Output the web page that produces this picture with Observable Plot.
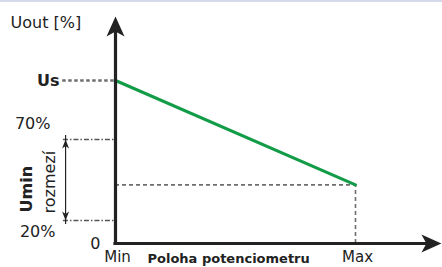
<!DOCTYPE html>
<html>
<head>
<meta charset="utf-8">
<script src="https://cdn.jsdelivr.net/npm/d3@7"></script>
<script src="https://cdn.jsdelivr.net/npm/@observablehq/plot@0.6"></script>
<style>
  html, body { margin: 0; padding: 0; background: #fff; }
  #wrap { position: relative; width: 442px; height: 267px; overflow: hidden; }
  #topline { position: absolute; left: 0; top: 0; width: 442px; height: 2px; background: #d5daea; }
  svg { display: block; }
</style>
</head>
<body>
<div id="wrap"><div id="topline"></div></div>
<script>
// ---- data (schematic values) ----
const potPositions = [0, 1];               // Min, Max (potentiometer position)
const potLabels = ["Min", "Max"];
const uoutValues = [100, 42];              // Uout from Us (at Min) down to end value (at Max)
const levelValues = [0, 20, 70];           // y tick levels
const levelLabels = ["0", "20%", "70%"];
const usLevel = 100;                       // Us level
const uminRange = [20, 70];                // Umin range 20–70 %
const yAxisTop = 130;                      // arrow tip of Uout axis
const xAxisEnd = 1.358;                    // arrow tip of position axis

const line = potPositions.map((x, i) => ({x, y: uoutValues[i]}));
const endPoint = line[line.length - 1];

// schematic (non-linear) vertical layout of the drawing
const schematic = d3.scaleLinear().domain([0, 20, 70, 100, 130]).range([0, 23, 104, 163, 227]);

const upHead = {draw(c) { c.moveTo(0, 0); c.lineTo(9, 20); c.lineTo(0, 15); c.lineTo(-9, 20); c.closePath(); }};
const rightHead = {draw(c) { c.moveTo(0, 0); c.lineTo(-20, -9); c.lineTo(-15, 0); c.lineTo(-20, 9); c.closePath(); }};
const smallUp = {draw(c) { c.moveTo(0, 0); c.lineTo(3.5, 9); c.lineTo(0, 6.5); c.lineTo(-3.5, 9); c.closePath(); }};
const smallDown = {draw(c) { c.moveTo(0, 0); c.lineTo(3.5, -9); c.lineTo(0, -6.5); c.lineTo(-3.5, -9); c.closePath(); }};

const font = "DejaVu Sans, sans-serif";
const ink = "#222";
const grey = "#6f6f6f";

const chart = Plot.plot({
  width: 442,
  height: 267,
  margin: 0,
  style: {fontFamily: font, background: "transparent", overflow: "visible"},
  x: {domain: [0, 1], range: [115, 355], axis: null},
  y: {transform: schematic, domain: [0, 227], range: [243, 16], axis: null},
  marks: [
    // Us dashed leader
    Plot.ruleY([usLevel], {x1: -0.22, x2: 0, stroke: grey, strokeWidth: 2.4, strokeDasharray: "3.5,2.5"}),
    // Umin range dash-dot leaders
    Plot.ruleY(uminRange, {x1: -0.217, x2: 0, stroke: "#555", strokeWidth: 1.6, strokeDasharray: "5,2,1.5,2"}),
    // double arrow for Umin range
    Plot.ruleX([-0.208], {y1: uminRange[0], y2: uminRange[1], stroke: ink, strokeWidth: 1.2, insetTop: 4, insetBottom: 4}),
    Plot.dot([{x: -0.208, y: uminRange[1]}], {x: "x", y: "y", symbol: smallUp, fill: ink, stroke: "none", r: 3}),
    Plot.dot([{x: -0.208, y: uminRange[0]}], {x: "x", y: "y", symbol: smallDown, fill: ink, stroke: "none", r: 3}),
    // end-point dashed projections
    Plot.ruleY([endPoint], {y: "y", x1: 0, x2: "x", stroke: grey, strokeWidth: 1.6, strokeDasharray: "4,3"}),
    Plot.ruleX([endPoint], {x: "x", y1: 0, y2: "y", stroke: grey, strokeWidth: 1.6, strokeDasharray: "4,3"}),
    // Uout line
    Plot.line(line, {x: "x", y: "y", stroke: "#139c48", strokeWidth: 3}),
    // axes
    Plot.ruleX([0], {y1: 0, y2: yAxisTop - 3, stroke: ink, strokeWidth: 3.2, strokeLinecap: "square"}),
    Plot.ruleY([0], {x1: 0, x2: xAxisEnd - 0.06, stroke: ink, strokeWidth: 3.2, strokeLinecap: "square"}),
    Plot.dot([{x: 0, y: yAxisTop}], {x: "x", y: "y", symbol: upHead, fill: ink, stroke: "none", r: 5}),
    Plot.dot([{x: xAxisEnd, y: 0}], {x: "x", y: "y", symbol: rightHead, fill: ink, stroke: "none", r: 5}),
    // labels
    Plot.text(["Uout [%]"], {x: 0, y: yAxisTop, dx: -105, dy: 6, textAnchor: "start", fontSize: 16, fill: ink}),
    Plot.text(["Us"], {x: 0, y: usLevel, dx: -56, textAnchor: "end", fontSize: 16, fontWeight: "bold", fill: ink}),
    Plot.text([levelLabels[2]], {x: 0, y: levelValues[2], dx: -65, dy: -16, textAnchor: "end", fontSize: 16, fill: ink}),
    Plot.text([levelLabels[1]], {x: 0, y: levelValues[1], dx: -60, dy: 11, textAnchor: "end", fontSize: 16, fill: ink}),
    Plot.text([levelLabels[0]], {x: 0, y: levelValues[0], dx: -15, textAnchor: "end", fontSize: 16, fill: ink}),
    Plot.text(["Umin"], {x: 0, y: uminRange[0], dx: -89, dy: -8, rotate: -90, textAnchor: "start", fontSize: 16, fontWeight: "bold", fill: ink}),
    Plot.text(["rozmezí"], {x: 0, y: uminRange[0], dx: -66, dy: -7, rotate: -90, textAnchor: "start", fontSize: 16, fill: ink}),
    Plot.text(potPositions, {x: d => d, y: 0, text: (d, i) => potLabels[i], dx: 2, dy: 14, fontSize: 15, fill: ink}),
    Plot.text(["Poloha potenciometru"], {x: 0, y: 0, dx: 32, dy: 15, textAnchor: "start", fontSize: 13, fontWeight: "bold", fill: ink})
  ]
});
document.getElementById("wrap").appendChild(chart);
</script>
</body>
</html>
